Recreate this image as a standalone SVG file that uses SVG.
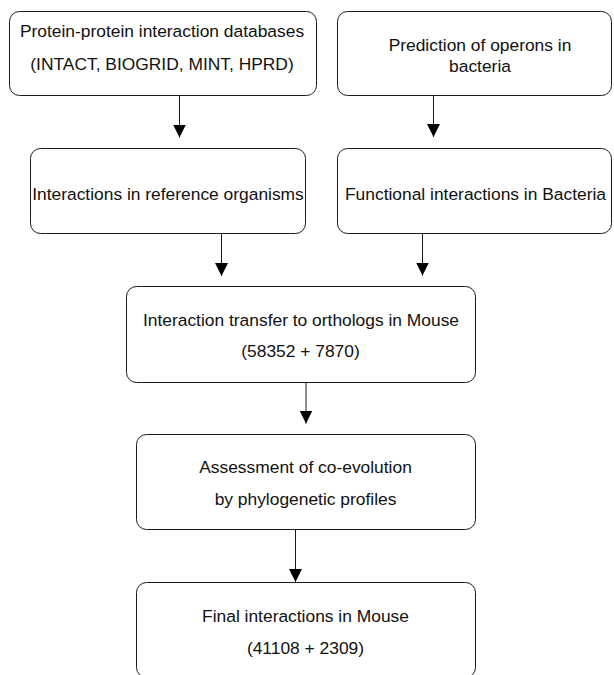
<svg xmlns="http://www.w3.org/2000/svg" width="614" height="675" viewBox="0 0 614 675">
  <style>
    .box { fill: #ffffff; stroke: #1a1a1a; stroke-width: 1; }
    .lbl { font-family: "Liberation Sans", Arial, Helvetica, sans-serif; font-size: 17.4px; fill: #111111; text-anchor: middle; }
    .edge { stroke: #1a1a1a; stroke-width: 1; fill: none; marker-end: url(#ah); }
  </style>
  <defs>
    <marker id="ah" markerUnits="userSpaceOnUse" markerWidth="13" markerHeight="13" refX="13" refY="6.5" orient="auto">
      <path d="M0,0 L13,6.5 L0,13 z" fill="#000000"/>
    </marker>
  </defs>
  <rect x="0" y="0" width="614" height="675" fill="#ffffff"/>

  <g id="node-ppi-databases">
    <rect class="box" x="9.5" y="11.5" width="307" height="84" rx="10" ry="10"/>
    <text class="lbl" x="162" y="36.5">Protein-protein interaction databases</text>
    <text class="lbl" x="162" y="70">(INTACT, BIOGRID, MINT, HPRD)</text>
  </g>
  <g id="node-operon-prediction">
    <rect class="box" x="337.5" y="11.5" width="274" height="84" rx="10" ry="10"/>
    <text class="lbl" x="480" y="51">Prediction of operons in</text>
    <text class="lbl" x="480" y="72">bacteria</text>
  </g>
  <g id="node-reference-interactions">
    <rect class="box" x="30.5" y="148.5" width="275" height="85" rx="10" ry="10"/>
    <text class="lbl" x="168" y="199.5">Interactions in reference organisms</text>
  </g>
  <g id="node-bacteria-interactions">
    <rect class="box" x="337.5" y="148.5" width="274" height="85" rx="10" ry="10"/>
    <text class="lbl" x="475.5" y="199.5">Functional interactions in Bacteria</text>
  </g>
  <g id="node-transfer">
    <rect class="box" x="126.5" y="286.5" width="349" height="96" rx="10" ry="10"/>
    <text class="lbl" x="301" y="325.5">Interaction transfer to orthologs in Mouse</text>
    <text class="lbl" x="300.5" y="357">(58352 + 7870)</text>
  </g>
  <g id="node-coevolution">
    <rect class="box" x="136.5" y="434.5" width="339" height="95" rx="10" ry="10"/>
    <text class="lbl" x="305.5" y="473.3">Assessment of co-evolution</text>
    <text class="lbl" x="305.5" y="504.5">by phylogenetic profiles</text>
  </g>
  <g id="node-final">
    <rect class="box" x="136.5" y="582.5" width="339" height="95" rx="10" ry="10"/>
    <text class="lbl" x="305.5" y="621.5">Final interactions in Mouse</text>
    <text class="lbl" x="305.5" y="654">(41108 + 2309)</text>
  </g>

  <g id="connectors">
    <line class="edge" x1="179.5" y1="96" x2="179.5" y2="137.5"/>
    <line class="edge" x1="433.5" y1="96" x2="433.5" y2="137"/>
    <line class="edge" x1="221.5" y1="234" x2="221.5" y2="276"/>
    <line class="edge" x1="422.5" y1="234" x2="422.5" y2="275.5"/>
    <line class="edge" x1="306" y1="383" x2="306" y2="423.5"/>
    <line class="edge" x1="295.5" y1="530" x2="295.5" y2="582"/>
  </g>
</svg>
